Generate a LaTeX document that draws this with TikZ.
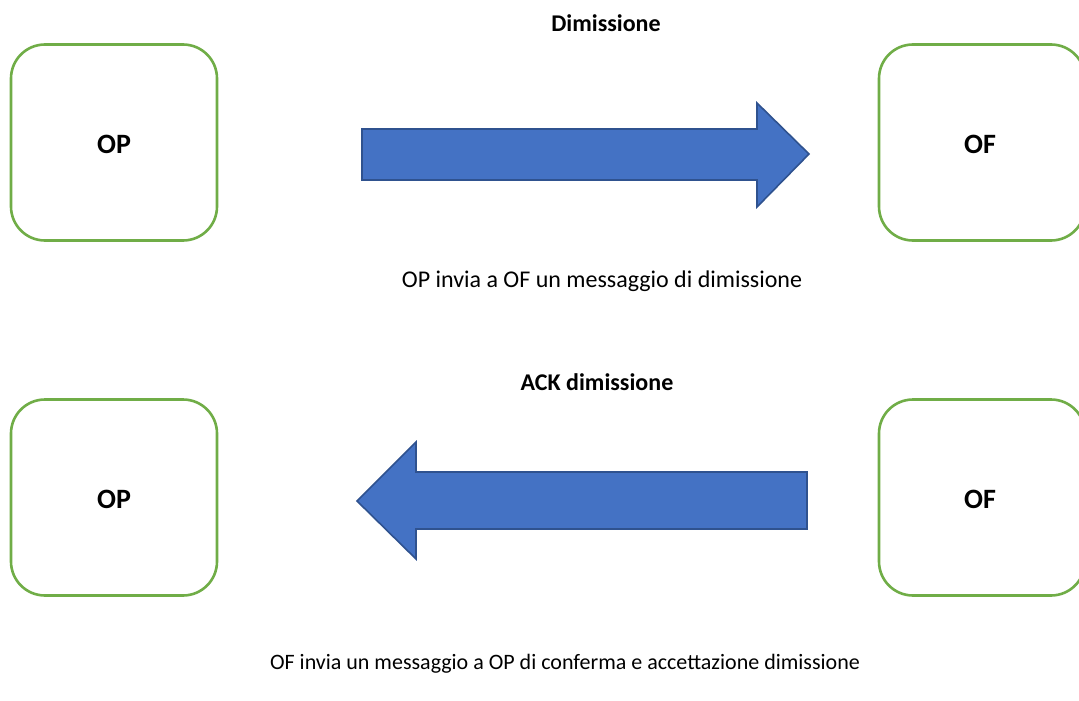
\documentclass[tikz,border=0pt]{standalone}
\usepackage{fontspec}
\setmainfont{Carlito}
\definecolor{boxgreen}{HTML}{70AD47}
\definecolor{arrowfill}{HTML}{4472C4}
\definecolor{arrowline}{HTML}{2F528F}
\begin{document}
\begin{tikzpicture}[x=1pt,y=-1pt,
  entity/.style={draw=boxgreen,line width=2.6pt,rounded corners=34pt,minimum width=206pt,minimum height=196pt,inner sep=0pt},
  entlbl/.style={font=\fontsize{28}{32}\selectfont\bfseries,inner sep=0pt,anchor=base},
  bigarrow/.style={fill=arrowfill,draw=arrowline,line width=1.6pt,line join=miter},
  lbl/.style={font=\fontsize{24}{28}\selectfont,inner sep=0pt,anchor=base},
  slbl/.style={font=\fontsize{22}{26}\selectfont,inner sep=0pt,anchor=base},
  blbl/.style={font=\fontsize{24}{28}\selectfont\bfseries,inner sep=0pt,anchor=base}]
\useasboundingbox (0,0) rectangle (1079,701);
\begin{scope}
\clip (0,0) rectangle (1079,701);
\node[entity] (op1) at (114,142.5) {};
\node[entity] (of1) at (982,142.5) {};
\node[entity] (op2) at (114,497.5) {};
\node[entity] (of2) at (982,497.5) {};
\end{scope}
\node[entlbl] (op1t) at (114,153) {OP};
\node[entlbl] (of1t) at (980,153) {OF};
\node[entlbl] (op2t) at (114,508) {OP};
\node[entlbl] (of2t) at (980,508) {OF};
% arrow 1 (right)
\draw[bigarrow] (362,129) -- (757,129) -- (757,103) -- (809,154) -- (757,207) -- (757,180) -- (362,180) -- cycle;
% arrow 2 (left)
\draw[bigarrow] (807,472) -- (416,472) -- (416,442) -- (357,501) -- (416,559) -- (416,529) -- (807,529) -- cycle;
\node[blbl] (t1) at (606,32) {Dimissione};
\node[lbl] (t2) at (602,287) {OP invia a OF un messaggio di dimissione};
\node[blbl] (t3) at (597,390) {ACK dimissione};
\node[slbl] (t4) at (565,669) {OF invia un messaggio a OP di conferma e accettazione dimissione};
\end{tikzpicture}
\end{document}
